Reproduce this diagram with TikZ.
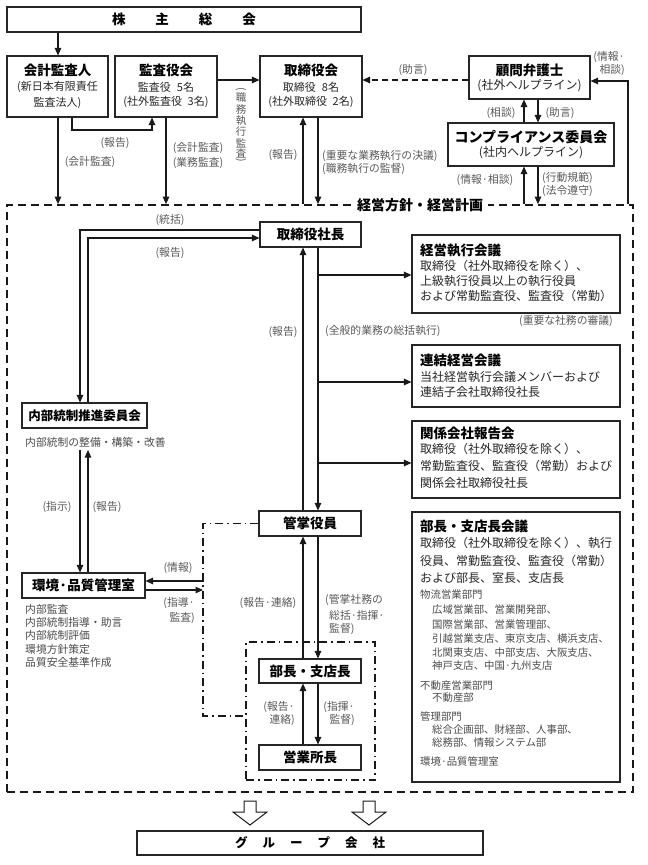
\documentclass[tikz,border=0pt]{standalone}
\usepackage{fontspec}
\setmainfont{Noto Sans CJK JP}
\usetikzlibrary{arrows.meta}
\begin{document}
\begin{tikzpicture}[x=1pt,y=-1pt,
  box/.style={draw=black!85, line width=1.1pt, fill=white, inner sep=0pt},
  tbox/.style={box, font=\bfseries\fontsize{13.5}{15}\selectfont},
  ttl/.style={inner sep=0pt, font=\bfseries\fontsize{13.5}{15}\selectfont},
  txt/.style={inner sep=0pt, font=\fontsize{11}{13}\selectfont, text=black!85},
  rtxt/.style={inner sep=0pt, anchor=west, font=\fontsize{12}{14}\selectfont, text=black!85},
  rttl/.style={ttl, anchor=west},
  stxt/.style={inner sep=0pt, anchor=west, font=\fontsize{10.4}{12}\selectfont, text=black!70},
  lbl/.style={inner sep=0pt, font=\fontsize{10.8}{12}\selectfont, text=black!65},
  ln/.style={line width=1.1pt, draw=black!90},
  arr/.style={ln, -{Triangle[length=7.5pt,width=6.5pt]}},
  darr/.style={arr, dash pattern=on 6pt off 4pt},
  frm/.style={draw=black!90, line width=1.7pt, dash pattern=on 8pt off 5pt, inner sep=0pt},
  dd/.style={draw=black!90, line width=1.4pt, dash pattern=on 8pt off 4pt on 1.5pt off 4pt},
  hollow/.style={draw=black!90, line width=1pt, fill=white}
]
\fill[white] (0,0) rectangle (648,865);
\useasboundingbox (0,0) rectangle (648,865);

% helper coordinates
\coordinate (xA) at (58,0);
\coordinate (xR1) at (72,0);
\coordinate (xR2) at (152,0);
\coordinate (xK) at (166,0);
\coordinate (xU) at (303,0);
\coordinate (xD) at (318,0);
\coordinate (xCu) at (524,0);
\coordinate (xCd) at (538,0);
\coordinate (xLoop) at (628,0);
\coordinate (xN1) at (80,0);
\coordinate (xN2) at (88,0);
\coordinate (xDD) at (203,0);
\coordinate (yTop) at (0,80);
\coordinate (yR) at (0,130);
\coordinate (yLoop) at (0,81);
\coordinate (yS1) at (0,230);
\coordinate (yS2) at (0,238);
\coordinate (yN) at (0,450);
\coordinate (yB1) at (0,275);
\coordinate (yB2) at (0,382);
\coordinate (yB3) at (0,463);
\coordinate (yK1) at (0,581);
\coordinate (yK2) at (0,590);
\coordinate (yDDb) at (0,716);

% big dashed frame
\node[frm, minimum width=626pt, minimum height=587pt] (frame) at (320,498.5) {};
\node[fill=white, inner xsep=5pt, inner ysep=2pt, font=\bfseries\fontsize{14}{16}\selectfont] (policy) at (420,205) {経営方針・経営計画};

% inner dash-dot box
\node[dd, inner sep=0pt, minimum width=129pt, minimum height=138pt] (ddbox) at (310.5,711) {};

% top row
\node[tbox, minimum width=354pt, minimum height=25pt] (kabu) at (184,19.5) {株\hspace{30pt}主\hspace{30pt}総\hspace{30pt}会};

\node[box, minimum width=101pt, minimum height=61pt] (kaikei) at (57.5,86.5) {};
\node[ttl] (kaikeiT) at (57.5,70) {会計監査人};
\node[txt] (kaikei1) at (57.5,87) {(新日本有限責任};
\node[txt] (kaikei2) at (57.5,103) {監査法人)};

\node[box, minimum width=102pt, minimum height=61pt] (kansa) at (166,86.5) {};
\node[ttl] (kansaT) at (166,70) {監査役会};
\node[txt] (kansa1) at (166,87) {監査役\hspace{0.55em}5名};
\node[txt] (kansa2) at (166,102) {(社外監査役\hspace{0.5em}3名)};

\node[box, minimum width=102pt, minimum height=61pt] (torishimari) at (311,86.5) {};
\node[ttl] (toriT) at (311,70) {取締役会};
\node[txt] (tori1) at (311,87) {取締役\hspace{0.55em}8名};
\node[txt] (tori2) at (311,102) {(社外取締役\hspace{0.5em}2名)};

\node[box, minimum width=121pt, minimum height=43pt] (komon) at (529.5,77.5) {};
\node[ttl] (komonT) at (529.5,70) {顧問弁護士};
\node[txt, font=\fontsize{12}{14}\selectfont] (komon1) at (529.5,86) {(社外ヘルプライン)};

\node[box, minimum width=166pt, minimum height=43pt] (comp) at (531,144.5) {};
\node[ttl, font=\bfseries\fontsize{14}{16}\selectfont] (compT) at (531,137) {コンプライアンス委員会};
\node[txt, font=\fontsize{12}{14}\selectfont] (comp1) at (531,153) {(社内ヘルプライン)};

% middle column
\node[tbox, minimum width=101pt, minimum height=25pt] (shacho) at (310.5,234.5) {取締役社長};
\node[tbox, minimum width=102pt, minimum height=25pt] (kansho) at (310,523.5) {管掌役員};
\node[tbox, minimum width=102pt, minimum height=24pt] (bucho) at (310,671) {部長・支店長};
\node[tbox, minimum width=102pt, minimum height=25pt] (eigyo) at (310,757.5) {営業所長};

% left column
\node[tbox, minimum width=125pt, minimum height=25pt, font=\bfseries\fontsize{12.5}{14}\selectfont] (naibu) at (84.5,415.5) {内部統制推進委員会};
\node[stxt, font=\fontsize{10.8}{12}\selectfont] (naibuS) at (25,442) {内部統制の整備・構築・改善};
\node[tbox, minimum width=123pt, minimum height=25pt] (kankyo) at (83.5,585.5) {環境·品質管理室};
\foreach \yy/\tt [count=\i] in {609/内部監査, 622/内部統制指導・助言, 635/内部統制評価, 649/環境方針策定, 662/品質安全基準作成}
  \node[stxt, font=\fontsize{10.8}{12}\selectfont] (kl\i) at (25,\yy) {\tt};

% right boxes
\node[box, minimum width=208pt, minimum height=78pt] (keiei) at (516,274) {};
\node[rttl] (keieiT) at (420,250) {経営執行会議};
\node[rtxt] (keiei1) at (420,266) {取締役（社外取締役を除く）、};
\node[rtxt] (keiei2) at (420,281) {上級執行役員以上の執行役員};
\node[rtxt] (keiei3) at (420,296) {および常勤監査役、監査役（常勤）};

\node[box, minimum width=208pt, minimum height=62pt] (renketsu) at (516,376) {};
\node[rttl] (renT) at (420,360) {連結経営会議};
\node[rtxt] (ren1) at (420,377) {当社経営執行会議メンバーおよび};
\node[rtxt] (ren2) at (420,392) {連結子会社取締役社長};

\node[box, minimum width=208pt, minimum height=77pt] (kankei) at (516,459.5) {};
\node[rttl] (kanT) at (420,433) {関係会社報告会};
\node[rtxt] (kan1) at (420,449) {取締役（社外取締役を除く）、};
\node[rtxt] (kan2) at (420,466) {常勤監査役、監査役（常勤）および};
\node[rtxt] (kan3) at (420,483) {関係会社取締役社長};

\node[box, minimum width=208pt, minimum height=270pt] (bkaigi) at (516,647) {};
\node[rttl] (bkT) at (420,526) {部長・支店長会議};
\node[rtxt] (bk1) at (420,543) {取締役（社外取締役を除く）、執行};
\node[rtxt] (bk2) at (420,561) {役員、常勤監査役、監査役（常勤）};
\node[rtxt] (bk3) at (420,578) {および部長、室長、支店長};
\foreach \xx/\yy/\tt [count=\i] in {420/595/物流営業部門, 432/610/広域営業部、営業開発部、, 432/625/国際営業部、営業管理部、, 432/639/引越営業支店、東京支店、横浜支店、, 432/653/北関東支店、中部支店、大阪支店、, 432/666/神戸支店、中国·九州支店, 420/686/不動産営業部門, 432/698/不動産部, 420/717/管理部門, 432/730/総合企画部、財経部、人事部、, 432/743/総務部、情報システム部, 420/762/環境·品質管理室}
  \node[stxt] (bs\i) at (\xx,\yy) {\tt};

% group
\node[tbox, minimum width=346pt, minimum height=24pt, font=\bfseries\fontsize{12.5}{14}\selectfont] (group) at (310,843) {グ\hspace{15pt}ル\hspace{15pt}ー\hspace{15pt}プ\hspace{15pt}会\hspace{15pt}社};

% connectors top
\draw[arr] (kabu.south -| xA) -- (kaikei.north -| xA);
\draw[arr] (kansa.east |- yTop) -- (torishimari.west |- yTop);
\draw[arr] (kaikei.south -| xR1) -- (xR1 |- yR) -| (kansa.south -| xR2);
\draw[arr] (kaikei.south -| xA) -- (frame.north -| xA);
\draw[arr] (kansa.south -| xK) -- (frame.north -| xK);
\draw[arr] (frame.north -| xU) -- (torishimari.south -| xU);
\draw[arr] (torishimari.south -| xD) -- (frame.north -| xD);
\draw[darr] (komon.west |- yTop) -- (torishimari.east |- yTop);
\draw[arr] (comp.north -| xCu) -- (komon.south -| xCu);
\draw[arr] (komon.south -| xCd) -- (comp.north -| xCd);
\draw[arr] (frame.north -| xCu) -- (comp.south -| xCu);
\draw[arr] (comp.south -| xCd) -- (frame.north -| xCd);
\draw[arr] (frame.north -| xLoop) -- (xLoop |- yLoop) -- (komon.east |- yLoop);

% connectors inside
\draw[arr] (shacho.west |- yS1) -| (naibu.north -| xN1);
\draw[arr] (naibu.north -| xN2) |- (shacho.west |- yS2);
\draw[arr] (xN1 |- yN) -- (kankyo.north -| xN1);
\draw[arr] (kankyo.north -| xN2) -- (xN2 |- yN);
\draw[arr] (kansho.north -| xU) -- (shacho.south -| xU);
\draw[arr] (shacho.south -| xD) -- (kansho.north -| xD);
\draw[arr] (xD |- yB1) -- (keiei.west |- yB1);
\draw[arr] (xD |- yB2) -- (renketsu.west |- yB2);
\draw[arr] (xD |- yB3) -- (kankei.west |- yB3);
\draw[dd] (kansho.west) -| (xDD |- yDDb) -- (ddbox.west |- yDDb);
\draw[arr] ([xshift=1pt]xDD |- yK1) -- (kankyo.east |- yK1);
\draw[arr] (kankyo.east |- yK2) -- (xDD |- yK2);
\draw[arr] (bucho.north -| xU) -- (kansho.south -| xU);
\draw[arr] (kansho.south -| xD) -- (bucho.north -| xD);
\draw[arr] (eigyo.north -| xU) -- (bucho.south -| xU);
\draw[arr] (bucho.south -| xD) -- (eigyo.north -| xD);

% hollow arrows
\draw[hollow] (244,801) -- (256,801) -- (256,812) -- (267,812) -- (250,825) -- (233,812) -- (244,812) -- cycle;
\draw[hollow] (363,801) -- (375,801) -- (375,812) -- (386,812) -- (369,825) -- (352,812) -- (363,812) -- cycle;

% labels
\node[lbl] (l1) at (115,143) {(報告)};
\node[lbl] (l2) at (90,162) {(会計監査)};
\node[lbl] (l3) at (198,148) {(会計監査)};
\node[lbl] (l4) at (198,163) {(業務監査)};
\foreach \yy/\tt [count=\i] in {98/職, 109.5/務, 120.5/執, 132/行, 143/監, 153.5/査}
  \node[lbl, font=\fontsize{10.5}{12}\selectfont] (v\i) at (241,\yy) {\tt};
\node[lbl, font=\fontsize{10.5}{12}\selectfont] (vp1) at (241,90) {\rotatebox[origin=c]{-90}{(}};
\node[lbl, font=\fontsize{10.5}{12}\selectfont] (vp2) at (241,161) {\rotatebox[origin=c]{-90}{)}};
\node[lbl] (l5) at (283,155) {(報告)};
\node[lbl, anchor=west] (l6) at (322,156) {(重要な業務執行の決議)};
\node[lbl, anchor=west] (l7) at (322,169) {(職務執行の監督)};
\node[lbl] (l8) at (413,70) {(助言)};
\node[lbl] (l9) at (501,113) {(相談)};
\node[lbl] (l10) at (560,113) {(助言)};
\node[lbl] (l11) at (485,180) {(情報·相談)};
\node[lbl, anchor=west] (l12) at (542,178) {(行動規範)};
\node[lbl, anchor=west] (l13) at (542,191) {(法令遵守)};
\node[lbl, anchor=east] (l14) at (625,57) {(情報·};
\node[lbl, anchor=east] (l15) at (625,70) {相談)};
\node[lbl] (l16) at (170,220) {(統括)};
\node[lbl] (l17) at (170,253) {(報告)};
\node[lbl] (l18) at (57,507) {(指示)};
\node[lbl] (l19) at (107,507) {(報告)};
\node[lbl] (l20) at (283,332) {(報告)};
\node[lbl, anchor=west] (l21) at (325,331) {(全般的業務の総括執行)};
\node[lbl, anchor=east] (l22) at (613,321) {(重要な社務の審議)};
\node[lbl] (l23) at (178,568) {(情報)};
\node[lbl, anchor=east] (l24) at (195,603) {(指導·};
\node[lbl, anchor=east] (l25) at (195,618) {監査)};
\node[lbl] (l26) at (268,603) {(報告·連絡)};
\node[lbl, anchor=west] (l27) at (325,600) {(管掌社務の};
\node[lbl, anchor=west] (l28) at (329,615) {総括·指揮·};
\node[lbl, anchor=west] (l29) at (329,629) {監督)};
\node[lbl, anchor=east] (l30) at (295,707) {(報告·};
\node[lbl, anchor=east] (l31) at (295,720) {連絡)};
\node[lbl, anchor=east] (l32) at (355,707) {(指揮·};
\node[lbl, anchor=east] (l33) at (355,720) {監督)};
\end{tikzpicture}
\end{document}
